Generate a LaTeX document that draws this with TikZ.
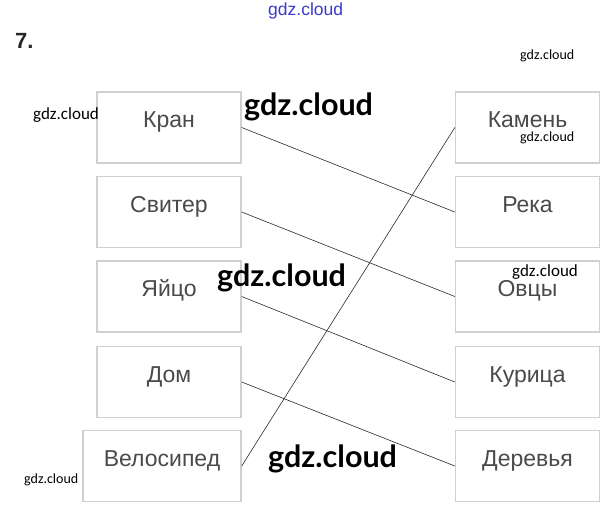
\documentclass[tikz,border=0pt]{standalone}
\usepackage{fontspec}
\setmainfont{Liberation Sans}
\newfontfamily\wmfont{Carlito}
\newfontfamily\wmbigfont{Lato}
\usepackage{xcolor}
\definecolor{boxgray}{HTML}{D0D0D0}
\definecolor{wordgray}{HTML}{4A4A4A}
\definecolor{linegray}{HTML}{2A2A2A}
\definecolor{wmblue}{HTML}{3A3AD0}
\tikzset{
  wordbox/.style={draw=boxgray, line width=1.4pt, minimum width=144pt, minimum height=71pt,
    inner sep=0pt, text height=12pt, text depth=12pt, text=wordgray,
    font=\fontsize{23}{27}\selectfont},
  matchline/.style={draw=linegray, line width=0.6pt},
  wmsmall/.style={anchor=base west, inner sep=0pt, font=\wmfont\fontsize{14}{16}\selectfont},
  wmmid/.style={anchor=base west, inner sep=0pt, font=\wmfont\fontsize{17}{19}\selectfont},
  wmbig/.style={anchor=base west, inner sep=0pt, font=\wmbigfont\bfseries\fontsize{30.5}{33}\selectfont},
  tasknum/.style={anchor=base west, inner sep=0pt, text=black!85, font=\bfseries\fontsize{22}{24}\selectfont}
}
\def\Lx{169}
\def\Rx{527.5}
\begin{document}
\begin{tikzpicture}[x=1pt, y=-1pt]
  \useasboundingbox (0,0) rectangle (611,511);
  \fill[white] (0,0) rectangle (611,511);
  \node[tasknum] (num) at (15,49) {7.};
  % left column
  \node[wordbox] (kran)   at (\Lx,127.5) {Кран};
  \node[wordbox] (sviter) at (\Lx,212)   {Свитер};
  \node[wordbox] (yaitso) at (\Lx,296.5) {Яйцо};
  \node[wordbox] (dom)    at (\Lx,382)   {Дом};
  \node[wordbox, minimum width=158pt] (velo) at (162,466) {Велосипед};
  % right column
  \node[wordbox] (kamen)   at (\Rx,127.5) {Камень};
  \node[wordbox] (reka)    at (\Rx,212)   {Река};
  \node[wordbox] (ovtsy)   at (\Rx,296.5) {Овцы};
  \node[wordbox] (kuritsa) at (\Rx,382)   {Курица};
  \node[wordbox] (derevya) at (\Rx,466)   {Деревья};
  % matches
  \draw[matchline] (kran.east) -- (reka.west);
  \draw[matchline] (sviter.east) -- (ovtsy.west);
  \draw[matchline] (yaitso.east) -- (kuritsa.west);
  \draw[matchline] (dom.east) -- (derevya.west);
  \draw[matchline] (velo.east) -- (kamen.west);
  % watermarks
  \node[anchor=base west, inner sep=0pt, text=wmblue, font=\fontsize{17.5}{19}\selectfont] (wm0) at (268,16) {gdz.cloud};
  \node[wmsmall] (wm1) at (520,60) {gdz.cloud};
  \node[wmmid]   (wm2) at (33,119) {gdz.cloud};
  \node[wmbig]   (wm3) at (244,115) {gdz.cloud};
  \node[wmsmall] (wm4) at (520,141) {gdz.cloud};
  \node[wmbig]   (wm5) at (217,286) {gdz.cloud};
  \node[wmmid]   (wm6) at (512,276) {gdz.cloud};
  \node[wmbig]   (wm7) at (268,467) {gdz.cloud};
  \node[wmsmall] (wm8) at (24,483) {gdz.cloud};
\end{tikzpicture}
\end{document}
